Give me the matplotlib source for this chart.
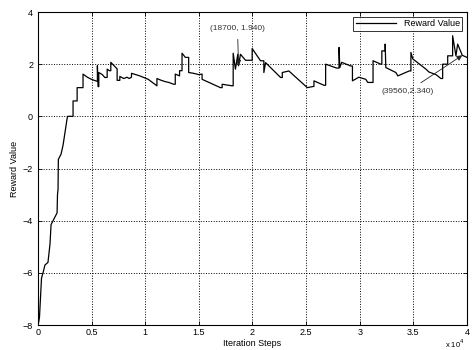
import matplotlib
matplotlib.use("Agg")
import matplotlib.pyplot as plt
from matplotlib.ticker import FuncFormatter

plt.rcParams['font.family'] = ['Liberation Sans', 'DejaVu Sans']

# iteration step / reward value pairs
steps = [0, 60, 140, 230, 330, 470, 650, 930, 1120, 1220, 1590, 1780, 1820, 1870,
         1900, 2150, 2340, 2520, 2710, 2760, 3270, 3270, 3650, 3650, 4200, 4200,
         4600, 4980, 5450, 5540, 5540, 5600, 5670, 5670, 6000, 6230, 6450, 6450,
         6650, 6790, 6790, 7380, 7380, 7630, 7630, 8000, 8300, 8500, 8720, 8720,
         9500, 10280, 11090, 11090, 11500, 11870, 12200, 12650, 12800, 12800,
         13200, 13200, 13430, 13430, 13740, 14050, 14050, 14500, 15000, 15300,
         15300, 16200, 17010, 17170, 17170, 18100, 18200, 18200, 18410, 18630,
         18700, 18880, 19350, 19970, 19970, 20750, 21060, 21060, 21220, 22620,
         22780, 22780, 23390, 25110, 25730, 25730, 26670, 26820, 26820, 27850,
         28070, 28070, 28140, 28320, 29160, 29320, 29320, 29910, 30560, 30750,
         31240, 31240, 31960, 32060, 32060, 32370, 32370, 32430, 33370, 33550,
         34610, 34770, 34770, 34950, 36170, 36450, 37100, 37570, 37730, 37730,
         38200, 38200, 38660, 38660, 38970, 39130, 39560, 40000]
reward = [-8.0, -7.9, -7.7, -7.0, -6.2, -6.0, -5.7, -5.6, -4.9, -4.15, -3.85, -3.7,
          -3.0, -2.8, -1.65, -1.45, -1.1, -0.6, -0.1, 0.0, 0.0, 0.59, 0.59, 1.10,
          1.10, 1.62, 1.5, 1.42, 1.35, 1.35, 1.94, 1.14, 1.14, 1.68, 1.6, 1.49,
          1.49, 1.81, 1.75, 1.75, 2.07, 1.82, 1.38, 1.38, 1.53, 1.45, 1.5, 1.45,
          1.5, 1.65, 1.55, 1.42, 1.17, 1.45, 1.38, 1.33, 1.3, 1.23, 1.23, 1.62,
          1.55, 1.75, 1.75, 2.42, 2.26, 2.26, 1.68, 1.65, 1.6, 1.62, 1.42, 1.25,
          1.1, 1.1, 1.23, 1.17, 1.17, 2.42, 1.81, 2.38, 1.94, 2.38, 2.15, 2.15,
          2.6, 2.13, 2.13, 1.68, 2.06, 1.49, 1.49, 1.68, 1.74, 1.1, 1.15, 1.36,
          1.19, 1.19, 2.0, 1.85, 1.85, 2.64, 1.87, 2.07, 1.93, 1.93, 1.36, 1.5,
          1.42, 1.3, 1.3, 2.13, 2.0, 2.0, 2.51, 2.51, 2.77, 1.87, 1.68, 1.55,
          1.74, 1.74, 2.45, 2.2, 1.81, 1.7, 1.6, 1.45, 1.45, 2.0, 2.0, 2.32,
          2.32, 3.09, 2.32, 2.77, 2.34, 2.26]

x_ticks = [0, 5000, 10000, 15000, 20000, 25000, 30000, 35000, 40000]
y_ticks = [-8, -6, -4, -2, 0, 2, 4]

# data tips: (step, value, label, text x, text y)
tips = [(18700, 1.94, "(18700, 1.940)", 18600, 3.35),
        (39560, 2.34, "(39560,2.340)", 34500, 0.96)]

fig = plt.figure(figsize=(4.73, 3.5), dpi=100)
ax = fig.add_axes([0.0803, 0.0714, 0.9070, 0.8943])

ax.plot(steps, reward, color='black', lw=0.9, label='Reward Value')

ax.set_xlim(0, 40000)
ax.set_ylim(-8, 4)
ax.set_xticks(x_ticks)
ax.set_yticks(y_ticks)
ax.xaxis.set_major_formatter(FuncFormatter(lambda v, p: f"{v / 1e4:g}"))
ax.tick_params(direction='in', top=True, right=True, labelsize=6.5, length=3, width=0.6)
ax.tick_params(axis='x', pad=2.5)
ax.grid(True, color='black', linestyle=':', lw=0.7)
for s in ax.spines.values():
    s.set_linewidth(0.8)

ax.set_xlabel('Iteration Steps', fontsize=6.5, labelpad=1)
ax.set_ylabel('Reward Value', fontsize=6.5, labelpad=3)
ax.text(0.995, -0.074, r'x 10$^4$', transform=ax.transAxes, fontsize=5.5,
        ha='right', va='baseline')

for sx, sy, label, tx, ty in tips:
    ax.annotate(label, xy=(sx, sy), xytext=(tx, ty), fontsize=6, color='#333333',
                ha='center', va='center',
                arrowprops=dict(arrowstyle='-|>', color='#222222', lw=0.6,
                                mutation_scale=8, shrinkA=3, shrinkB=0))

leg = ax.legend(loc='upper right', fontsize=6.5, frameon=True, fancybox=False,
                handlelength=4.5, borderpad=0.3, borderaxespad=0.5)
leg.get_frame().set_edgecolor('black')
leg.get_frame().set_linewidth(0.7)

fig.savefig('out.png', dpi=100)
